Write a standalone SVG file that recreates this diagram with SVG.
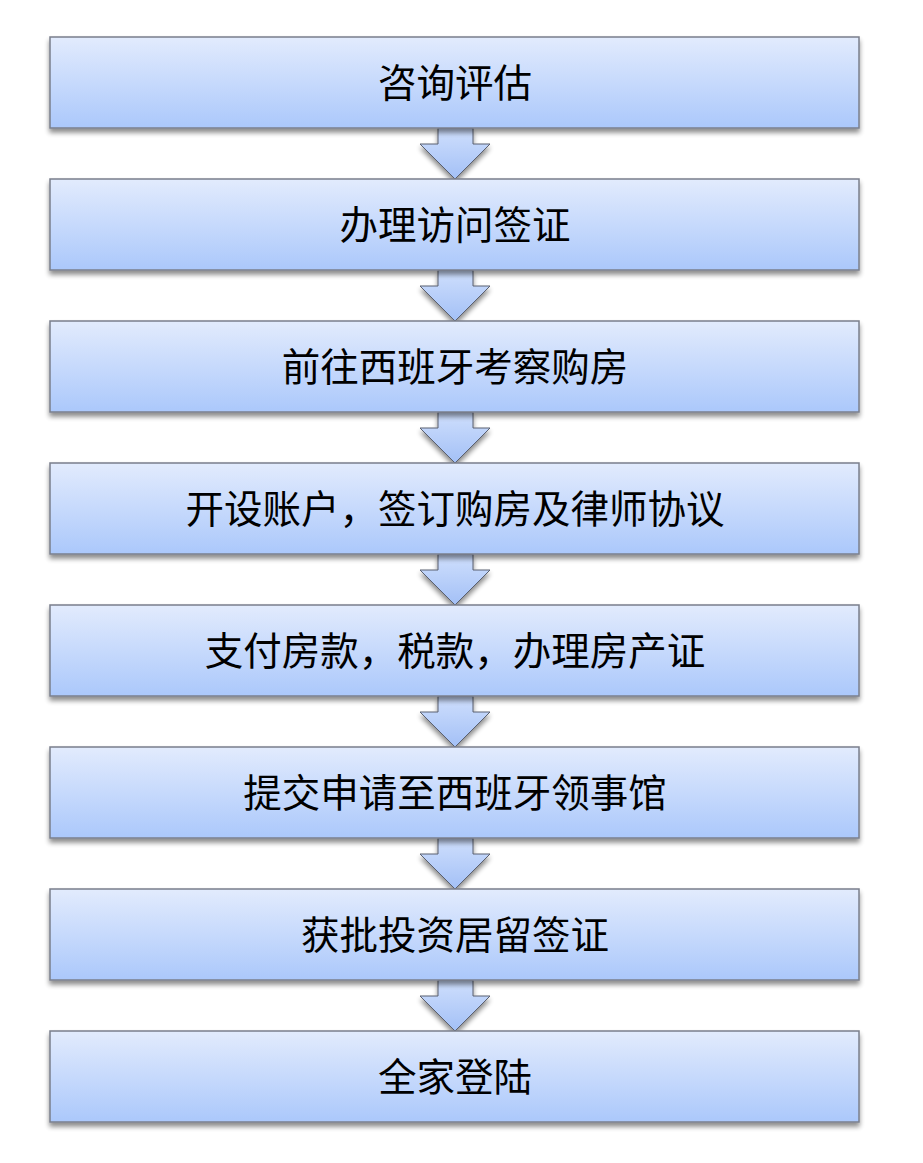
<svg xmlns="http://www.w3.org/2000/svg" width="923" height="1163" viewBox="0 0 923 1163">
<style>
.box{fill:url(#g);stroke:#7a7f8c;stroke-width:1.5;filter:url(#sh)}
.arr{fill:url(#ga);stroke:#5a6070;stroke-width:1;filter:url(#sh)}
.t{font-family:"Noto Sans CJK SC","Noto Sans CJK JP",sans-serif;font-size:38.5px;fill:#000;text-anchor:middle;dominant-baseline:central}
</style>
<defs>
<linearGradient id="g" x1="0" y1="0" x2="0" y2="1">
<stop offset="0" stop-color="#e2ebfd"/>
<stop offset="1" stop-color="#abc8fb"/>
</linearGradient>
<linearGradient id="ga" x1="0" y1="0" x2="0" y2="1">
<stop offset="0" stop-color="#cfdffd"/>
<stop offset="1" stop-color="#a3c0f6"/>
</linearGradient>
<filter id="sh" x="-5%" y="-20%" width="110%" height="150%">
<feGaussianBlur in="SourceAlpha" stdDeviation="2.5"/>
<feOffset dx="0" dy="4" result="b"/>
<feComponentTransfer><feFuncA type="linear" slope="0.45"/></feComponentTransfer>
<feMerge><feMergeNode/><feMergeNode in="SourceGraphic"/></feMerge>
</filter>
<polygon id="a" points="438,0 473,0 473,16 490,16 455,51 420,16 438,16"/>
</defs>
<rect width="923" height="1163" fill="#fff"/>
<g id="connectors">
<use href="#a" class="arr" x="0" y="128"/>
<use href="#a" class="arr" x="0" y="270"/>
<use href="#a" class="arr" x="0" y="412"/>
<use href="#a" class="arr" x="0" y="554"/>
<use href="#a" class="arr" x="0" y="696"/>
<use href="#a" class="arr" x="0" y="838"/>
<use href="#a" class="arr" x="0" y="980"/>
</g>
<g id="n1"><rect class="box" x="50" y="37" width="809" height="91"/><text class="t" x="455" y="80">咨询评估</text></g>
<g id="n2"><rect class="box" x="50" y="179" width="809" height="91"/><text class="t" x="455" y="222">办理访问签证</text></g>
<g id="n3"><rect class="box" x="50" y="321" width="809" height="91"/><text class="t" x="455" y="364">前往西班牙考察购房</text></g>
<g id="n4"><rect class="box" x="50" y="463" width="809" height="91"/><text class="t" x="455" y="506">开设账户，签订购房及律师协议</text></g>
<g id="n5"><rect class="box" x="50" y="605" width="809" height="91"/><text class="t" x="455" y="648">支付房款，税款，办理房产证</text></g>
<g id="n6"><rect class="box" x="50" y="747" width="809" height="91"/><text class="t" x="455" y="790">提交申请至西班牙领事馆</text></g>
<g id="n7"><rect class="box" x="50" y="889" width="809" height="91"/><text class="t" x="455" y="932">获批投资居留签证</text></g>
<g id="n8"><rect class="box" x="50" y="1031" width="809" height="91"/><text class="t" x="455" y="1074">全家登陆</text></g>
</svg>
